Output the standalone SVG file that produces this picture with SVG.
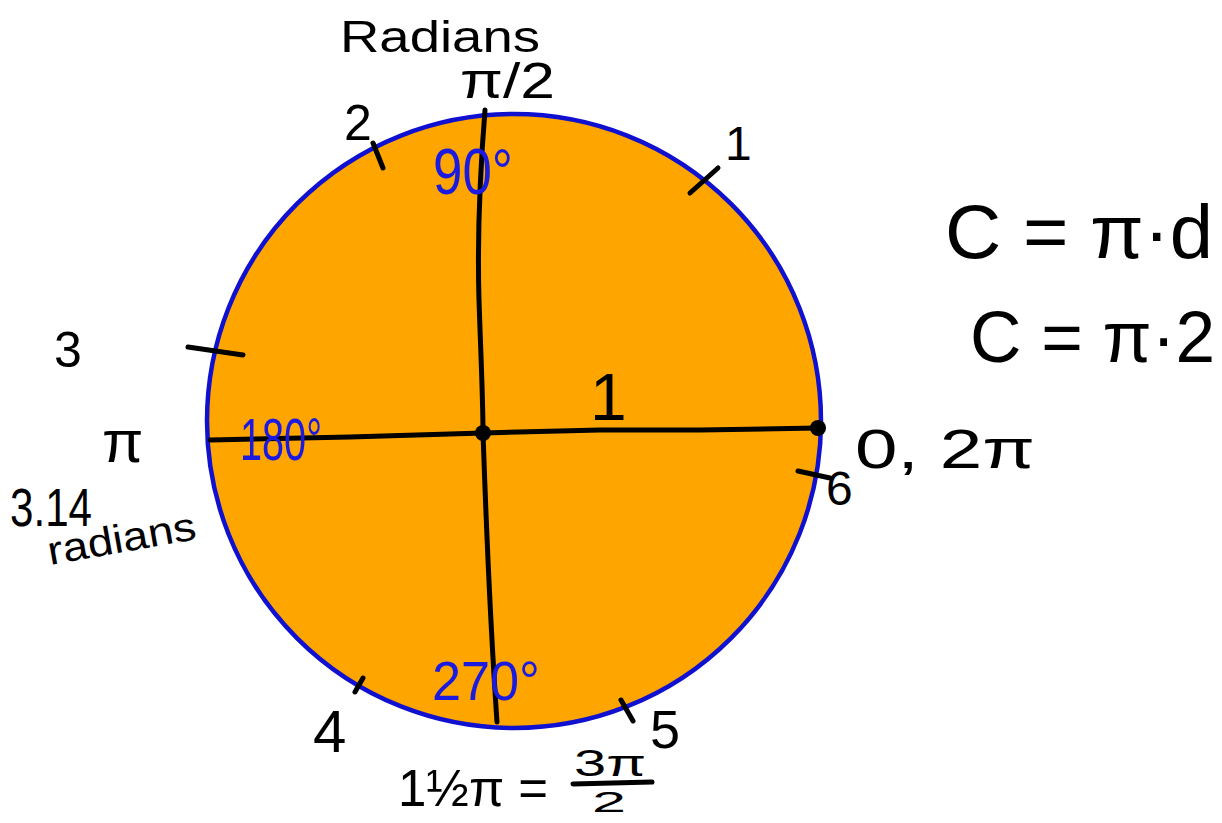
<svg xmlns="http://www.w3.org/2000/svg" width="1222" height="823" viewBox="0 0 1222 823">
<style>
.ink{font-family:"Liberation Sans","DejaVu Sans",sans-serif;fill:#000}
.blue{font-family:"Liberation Sans","DejaVu Sans",sans-serif;fill:#1a1ae0}
.stroke{stroke:#000;stroke-width:5;stroke-linecap:round;fill:none}
</style>
<rect width="1222" height="823" fill="#fff"/>
<g id="circle">
<circle cx="514" cy="421" r="307" fill="#ffa500" stroke="#1010d0" stroke-width="4.5"/>
</g>
<g id="axes">
<path class="stroke" d="M485,110 C481,160 477,230 479,300 C481,360 483,400 483,433 C486,520 490,620 497,722"/>
<path class="stroke" d="M210,440 L350,437 L483,433 L600,430 L700,430 L818,428"/>
<circle cx="483" cy="433" r="8" fill="#000"/>
<circle cx="818" cy="428" r="8" fill="#000"/>
</g>
<g id="ticks">
<line class="stroke" x1="690" y1="193" x2="718" y2="168"/>
<line class="stroke" x1="373" y1="143" x2="383" y2="168"/>
<line class="stroke" x1="188" y1="347" x2="243" y2="355"/>
<line class="stroke" x1="355" y1="692" x2="363" y2="678"/>
<line class="stroke" x1="621" y1="700" x2="633" y2="721"/>
<line class="stroke" x1="798" y1="471" x2="830" y2="478"/>
</g>
<g id="labels">
<text class="ink" x="340" y="52" font-size="44" textLength="200" lengthAdjust="spacingAndGlyphs">Radians</text>
<text class="ink" x="460" y="98" font-size="50" textLength="95" lengthAdjust="spacingAndGlyphs">π/2</text>
<text class="ink" x="344" y="140" font-size="50">2</text>
<text class="blue" x="433" y="194" font-size="64" textLength="80" lengthAdjust="spacingAndGlyphs">90°</text>
<text class="ink" x="725" y="160" font-size="48">1</text>
<text class="ink" x="54" y="367" font-size="50">3</text>
<text class="ink" x="102" y="462" font-size="60">π</text>
<text class="blue" x="240" y="460" font-size="60" textLength="82" lengthAdjust="spacingAndGlyphs">180°</text>
<text class="ink" x="10" y="526" font-size="54" textLength="82" lengthAdjust="spacingAndGlyphs">3.14</text>
<text class="ink" x="50" y="565" font-size="40" textLength="150" lengthAdjust="spacingAndGlyphs" transform="rotate(-10 50 565)">radians</text>
<text class="ink" x="590" y="420" font-size="66">1</text>
<text class="ink" x="855" y="468" font-size="56" textLength="180" lengthAdjust="spacingAndGlyphs">0, 2π</text>
<text class="ink" x="826" y="505" font-size="48">6</text>
<text class="blue" x="432" y="700" font-size="56" textLength="108" lengthAdjust="spacingAndGlyphs">270°</text>
<text class="ink" x="313" y="752" font-size="60">4</text>
<text class="ink" x="650" y="748" font-size="54">5</text>
<text class="ink" x="945" y="258" font-size="76" textLength="268" lengthAdjust="spacingAndGlyphs">C = π·d</text>
<text class="ink" x="970" y="362" font-size="72" textLength="245" lengthAdjust="spacingAndGlyphs">C = π·2</text>
<text class="ink" x="398" y="806" font-size="52" textLength="150" lengthAdjust="spacingAndGlyphs">1½π =</text>
<text class="ink" x="574" y="776" font-size="36" textLength="72" lengthAdjust="spacingAndGlyphs">3π</text>
<line class="stroke" x1="573" y1="784" x2="652" y2="782"/>
<text class="ink" x="592" y="812" font-size="30" textLength="34" lengthAdjust="spacingAndGlyphs">2</text>
</g>
</svg>
